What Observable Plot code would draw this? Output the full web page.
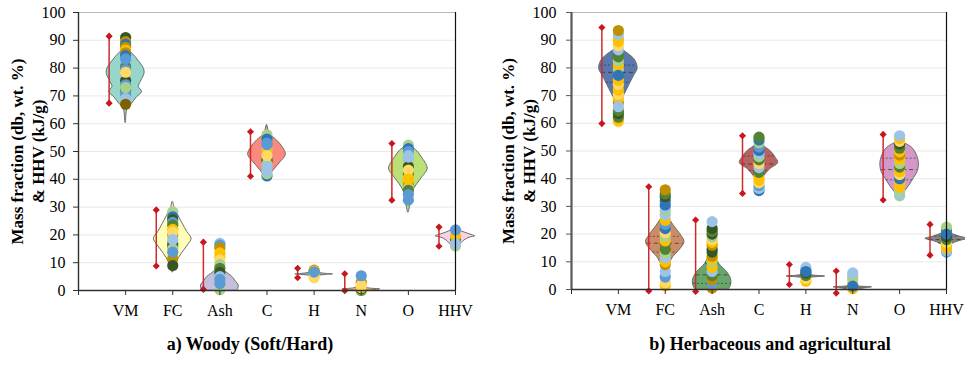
<!DOCTYPE html>
<html><head><meta charset="utf-8">
<script src="https://cdn.jsdelivr.net/npm/d3@7"></script>
<script src="https://cdn.jsdelivr.net/npm/@observablehq/plot@0.6"></script>
<style>
body{margin:0;background:#fff}
#wrap{position:relative;width:965px;height:371px;overflow:hidden;background:#fff}
.t{position:absolute;font:bold 18px "Liberation Serif","Times New Roman",serif;line-height:18px;text-align:center;width:400px;top:335px;color:#000;white-space:nowrap}
</style>
</head><body>
<div id="wrap">
  <div id="pa" style="position:absolute;left:0;top:0"></div>
  <div id="pb" style="position:absolute;left:482px;top:0"></div>
  <div class="t" style="left:50px">a) Woody (Soft/Hard)</div>
  <div class="t" style="left:570px">b) Herbaceous and agricultural</div>
</div>
<script>
// ---------- data ----------
const categories = ["VM", "FC", "Ash", "C", "H", "N", "O", "HHV"];
const yTicks = [0, 10, 20, 30, 40, 50, 60, 70, 80, 90, 100];
const gridValues = [10, 20, 30, 40, 50, 60, 70, 80, 90];
const yLabel = "Mass fraction (db, wt. %)\n& HHV (kJ/g)";

// range bars [max, min]
const woodyRange = [[91.5, 67.4], [29, 8.8], [17.4, 0.4], [57.1, 41.1], [8, 4.6], [6, -0.1], [52.9, 32.5], [22.8, 15.9]];
const herbRange = [[94.6, 59.9], [37.1, -0.5], [25.1, -0.7], [55.5, 34.7], [9, 1.8], [6.7, -1.3], [56, 32.3], [23.5, 12.4]];

// violin outlines: [value, half-width in category units]
const woodyViolins = [
  [[60.5, 0.01], [65.4, 0.04], [67.1, 0.13], [69.5, 0.24], [71.4, 0.35], [73.2, 0.28], [75, 0.32], [77.9, 0.40], [79.7, 0.39], [82.7, 0.27], [85.1, 0.15], [86.6, 0.06], [87.5, 0.01]],
  [[6.6, 0.01], [10.2, 0.085], [13.2, 0.19], [16.2, 0.32], [18.6, 0.40], [21.0, 0.31], [24.0, 0.21], [27.6, 0.10], [29.5, 0.04], [31.8, 0.01]],
  [[0, 0.37], [0.6, 0.39], [1.8, 0.40], [3.2, 0.34], [4.8, 0.27], [7.2, 0.10], [9.6, 0.05], [14, 0.025], [18.6, 0.01]],
  [[40.2, 0.01], [43.2, 0.14], [46.2, 0.29], [48.8, 0.40], [51.6, 0.33], [54, 0.21], [56.4, 0.06], [59.4, 0.01]],
  [[4.5, 0.01], [5.2, 0.08], [5.6, 0.25], [5.8, 0.40], [6.0, 0.25], [6.5, 0.08], [7.6, 0.01]],
  [[0, 0.2], [0.4, 0.40], [0.8, 0.15], [1.5, 0.05], [3, 0.01]],
  [[28.2, 0.01], [32.4, 0.06], [35.4, 0.09], [37.8, 0.17], [40.8, 0.30], [43.8, 0.41], [48, 0.28], [50.4, 0.17], [52.2, 0.02]],
  [[15.2, 0.01], [16, 0.06], [17, 0.13], [18, 0.19], [19, 0.30], [19.5, 0.42], [20, 0.34], [21, 0.17], [22, 0.05], [22.5, 0.01]]
];
const herbViolins = [
  [[64.6, 0.01], [68, 0.06], [70.6, 0.14], [74, 0.24], [77, 0.33], [79.7, 0.41], [82.7, 0.36], [85.1, 0.21], [86.9, 0.05], [87.5, 0.01]],
  [[4.5, 0.01], [8.1, 0.06], [11.7, 0.17], [14.1, 0.30], [17.1, 0.41], [19.5, 0.34], [22.9, 0.19], [26.2, 0.06], [27.5, 0.01]],
  [[0, 0.36], [0.6, 0.38], [2.1, 0.41], [3.9, 0.40], [6.3, 0.32], [9.3, 0.15], [12.9, 0.06], [16, 0.03], [20.2, 0.01]],
  [[38.5, 0.01], [40.9, 0.11], [43.3, 0.23], [45.7, 0.41], [47.5, 0.36], [49.9, 0.25], [52.3, 0.06], [53.5, 0.01]],
  [[3.5, 0.01], [4.2, 0.1], [4.7, 0.41], [5.2, 0.1], [6, 0.01]],
  [[0, 0.1], [0.4, 0.25], [0.8, 0.41], [1.2, 0.1], [2, 0.01]],
  [[33.1, 0.01], [34.9, 0.09], [37.3, 0.2], [40.3, 0.31], [42.7, 0.39], [45.7, 0.41], [48.4, 0.37], [51.1, 0.27], [52.9, 0.1], [53.8, 0.01]],
  [[15.0, 0.01], [16.5, 0.13], [17.5, 0.28], [18.3, 0.45], [19, 0.3], [20, 0.13], [21.2, 0.01]]
];
// quartile lines (herbaceous only): [Q3, median, Q1]
const herbQuartiles = [[81, 78.4, 74.8], [19.2, 16.7, 13.5], [9.5, 5.3, 2.2], [48.2, 45.3, 43.0], [], [], [47.4, 43.3, 39.6], [19.3, 18, 16.8]];

const woodyViolinColors = ["#8dd3c7", "#ffffb3", "#bebada", "#fb8072", "#80b1d3", "#fdb462", "#b3de69", "#fccde5"];
const herbViolinColors = ["#4d6ca6", "#c9825b", "#5b9f5e", "#b45552", "#7773a8", "#6a6458", "#cf8fc2", "#7a7a7a"];

// sample points per category: [value, sample colour code]
const woodyPoints = [
  [[91, "G"], [89.5, "o"], [88.5, "D"], [87.5, "o"], [86.5, "Y"], [85.5, "o"], [84.5, "D"], [82, "c"], [80.5, "g"], [79.5, "b"], [76.5, "c"], [75.5, "G"], [74, "b"], [72, "g"], [70.5, "b"], [69, "c"], [67, "B"], [83.3, "b"], [78.5, "y"], [73, "l"]],
  [[28.3, "l"], [26.5, "D"], [25.5, "G"], [24.5, "b"], [23.5, "g"], [22, "Y"], [20, "o"], [17, "g"], [16, "G"], [15, "l"], [12, "Y"], [11.3, "o"], [9, "G"], [21, "y"], [18.3, "c"], [13.8, "b"]],
  [[17, "c"], [16.3, "b"], [15.3, "o"], [13.5, "Y"], [12, "Y"], [11, "y"], [9.3, "l"], [8, "g"], [6.5, "G"], [5, "c"], [4, "b"], [1, "y"], [0.3, "l"], [2.5, "b"]],
  [[56, "l"], [54.5, "D"], [53, "b"], [51, "c"], [50, "Y"], [47.5, "g"], [46.5, "G"], [45.5, "l"], [41.2, "D"], [42, "l"], [43, "c"], [48.5, "y"], [52.5, "b"], [44.5, "c"]],
  [[7.3, "o"], [7, "Y"], [6.5, "g"], [5.5, "l"], [5, "y"], [4.6, "y"], [6.6, "b"]],
  [[0, "g"], [0.3, "l"], [0.5, "G"], [1, "Y"], [2.5, "Y"], [3, "o"], [2, "y"], [1.5, "y"], [5.3, "b"]],
  [[52.3, "l"], [51, "D"], [50, "b"], [48.5, "c"], [47, "c"], [45.5, "l"], [44.5, "G"], [42, "g"], [40.5, "Y"], [39, "Y"], [38, "o"], [37, "l"], [36, "g"], [34.5, "b"], [32.5, "b"], [48, "c"], [43.3, "y"], [40, "Y"]],
  [[16, "l"], [18.3, "g"], [19.8, "Y"], [21.8, "b"], [16.8, "c"]]
];
const herbPoints = [
  [[60.5, "y"], [61, "Y"], [62.2, "g"], [63.5, "G"], [64.5, "g"], [67.5, "o"], [69, "Y"], [70.5, "y"], [72, "Y"], [74, "y"], [75.5, "Y"], [79.5, "l"], [81, "Y"], [82.5, "l"], [84, "g"], [85, "g"], [86.5, "c"], [88, "y"], [89.5, "Y"], [90.5, "Y"], [92, "c"], [93.5, "o"], [66, "c"], [77.3, "D"]],
  [[1.3, "Y"], [2.5, "y"], [4.5, "b"], [6.5, "c"], [9, "o"], [10, "Y"], [11.5, "c"], [13, "l"], [14.5, "g"], [16.5, "g"], [17.5, "Y"], [19, "l"], [20.5, "y"], [22, "D"], [23.5, "b"], [25, "Y"], [27, "c"], [28.5, "l"], [29.5, "c"], [30.5, "D"], [32, "D"], [33.5, "G"], [34.5, "g"], [36, "o"]],
  [[0.5, "o"], [2, "b"], [3.5, "o"], [5, "g"], [6.5, "c"], [8, "Y"], [10, "l"], [11, "Y"], [12, "o"], [13.5, "G"], [14.5, "G"], [16, "o"], [17, "Y"], [18, "y"], [19, "l"], [20, "G"], [21, "g"], [22, "G"], [24.5, "c"]],
  [[35.7, "D"], [36.5, "c"], [37.5, "b"], [38.5, "y"], [39.5, "Y"], [40.5, "Y"], [42.3, "g"], [44, "c"], [45.5, "y"], [46.8, "g"], [48, "l"], [49, "c"], [50.2, "D"], [51.5, "b"], [53, "l"], [54, "D"], [55, "g"]],
  [[3, "Y"], [4, "y"], [5, "g"], [6, "G"], [7, "b"], [8, "c"], [6.5, "D"]],
  [[0.3, "Y"], [2, "Y"], [3, "y"], [4, "l"], [5, "l"], [6, "c"], [1.2, "D"]],
  [[33.8, "l"], [34.5, "c"], [35.5, "l"], [37, "Y"], [38.5, "Y"], [40, "D"], [41.5, "y"], [42.5, "Y"], [44.2, "g"], [45.5, "l"], [47, "Y"], [48.5, "o"], [49.7, "Y"], [51, "g"], [52.5, "G"], [53.5, "y"], [54.5, "Y"], [55.5, "c"]],
  [[13.5, "b"], [14, "c"], [15, "Y"], [16, "Y"], [17, "y"], [18, "g"], [19, "G"], [21, "l"], [21.5, "g"], [22.5, "l"], [20, "D"]]
];
const sampleColors = {G: "#375623", g: "#548235", l: "#a9d18e", B: "#7f6000", o: "#bf9000", Y: "#ffc000", y: "#ffd966", b: "#5b9bd5", c: "#9dc3e6", D: "#2e75b6"};

// ---------- drawing ----------
const serif = '"Liberation Serif","Times New Roman",serif';

function halfWidthAt(prof, y) {
  for (let k = 0; k < prof.length - 1; k++) {
    const [y0, w0] = prof[k], [y1, w1] = prof[k + 1];
    if (y >= y0 && y <= y1) return w0 + (w1 - w0) * (y - y0) / (y1 - y0);
  }
  return 0;
}

function panel(o) {
  const marks = [];
  marks.push(Plot.ruleY(gridValues, {stroke: "#e8e8e8", strokeWidth: 1}));
  marks.push(Plot.ruleY([100], {stroke: "#b8b8b8", strokeWidth: 1}));
  o.violins.forEach((prof, i) => {
    marks.push(Plot.areaX(prof, {
      y: d => d[0], x1: d => i + 1 - d[1], x2: d => i + 1 + d[1],
      fill: o.violinColors[i], fillOpacity: 0.92, stroke: "#6c6c6c", strokeWidth: 1, curve: "catmull-rom"
    }));
  });
  if (o.quartiles) {
    const med = [], qs = [];
    o.quartiles.forEach((q, i) => q.forEach((y, k) => {
      const hw = halfWidthAt(o.violins[i], y) * 0.97;
      (k === 1 ? med : qs).push({y, x1: i + 1 - hw, x2: i + 1 + hw});
    }));
    marks.push(Plot.ruleY(qs, {y: "y", x1: "x1", x2: "x2", stroke: "#2a2a2a", strokeOpacity: 0.6, strokeDasharray: "2,2"}));
    marks.push(Plot.ruleY(med, {y: "y", x1: "x1", x2: "x2", stroke: "#2a2a2a", strokeOpacity: 0.7, strokeDasharray: "4,3"}));
  }
  const rng = o.ranges.map((r, i) => ({x: i + 1, y1: r[0], y2: r[1]}));
  marks.push(Plot.ruleX(rng, {x: "x", y1: "y1", y2: "y2", dx: -16.5, stroke: "#d02a2e", strokeWidth: 1.5}));
  const ends = o.ranges.flatMap((r, i) => [{x: i + 1, y: r[0]}, {x: i + 1, y: r[1]}]);
  marks.push(Plot.dot(ends, {x: "x", y: "y", dx: -16.5, symbol: "diamond2", r: 3.2, fill: "#c8161d", stroke: "none"}));
  const pts = o.points.flatMap((list, i) => list.map(([v, c]) => ({x: i + 1, v, c})));
  marks.push(Plot.dot(pts, {x: "x", y: "v", r: 5.6, fill: d => sampleColors[d.c], stroke: "none"}));
  marks.push(Plot.ruleX([8], {stroke: "#111", strokeWidth: 1.2, y1: 0, y2: 100}));
  marks.push(Plot.ruleX([0], {stroke: o.axisColor, strokeWidth: o.axisWidth, y1: 0, y2: 100}));
  marks.push(Plot.ruleY([0], {stroke: "#303030", strokeWidth: 1.3}));
  marks.push(Plot.axisY({ticks: yTicks, tickSize: 5, tickPadding: o.tickPad, tickFormat: d => String(d), label: null, stroke: o.axisColor}));
  marks.push(Plot.axisX({ticks: [0, 1, 2, 3, 4, 5, 6, 7, 8], tickFormat: i => (i >= 1 ? categories[i - 1] : ""), tickSize: 5, tickPadding: 9, label: null, stroke: "#303030"}));
  marks.push(Plot.text([yLabel], {text: d => d, frameAnchor: "left", textAnchor: "middle", lineAnchor: "middle", rotate: -90, dx: o.labelDx, fontWeight: "bold", fontSize: 17, lineHeight: 1.22}));
  return Plot.plot({
    width: o.width, height: 330,
    marginLeft: o.marginLeft, marginRight: o.marginRight, marginTop: 12, marginBottom: o.marginBottom,
    x: {domain: [0, 8], axis: null},
    y: {domain: [0, 100], axis: null},
    color: {type: "identity"},
    style: {fontFamily: serif, fontSize: "16px", color: "#000", background: "transparent", overflow: "visible"},
    marks
  });
}

document.getElementById("pa").append(panel({
  width: 482, marginLeft: 78, marginRight: 27, marginBottom: 40,
  ranges: woodyRange, violins: woodyViolins, violinColors: woodyViolinColors, points: woodyPoints,
  axisColor: "#303030", axisWidth: 1.4, tickPad: 8, labelDx: -51.5
}));
document.getElementById("pb").append(panel({
  width: 483, marginLeft: 89, marginRight: 19, marginBottom: 41,
  ranges: herbRange, violins: herbViolins, violinColors: herbViolinColors, points: herbPoints, quartiles: herbQuartiles,
  axisColor: "#595959", axisWidth: 2.2, tickPad: 10, labelDx: -54
}));
</script>
</body></html>
